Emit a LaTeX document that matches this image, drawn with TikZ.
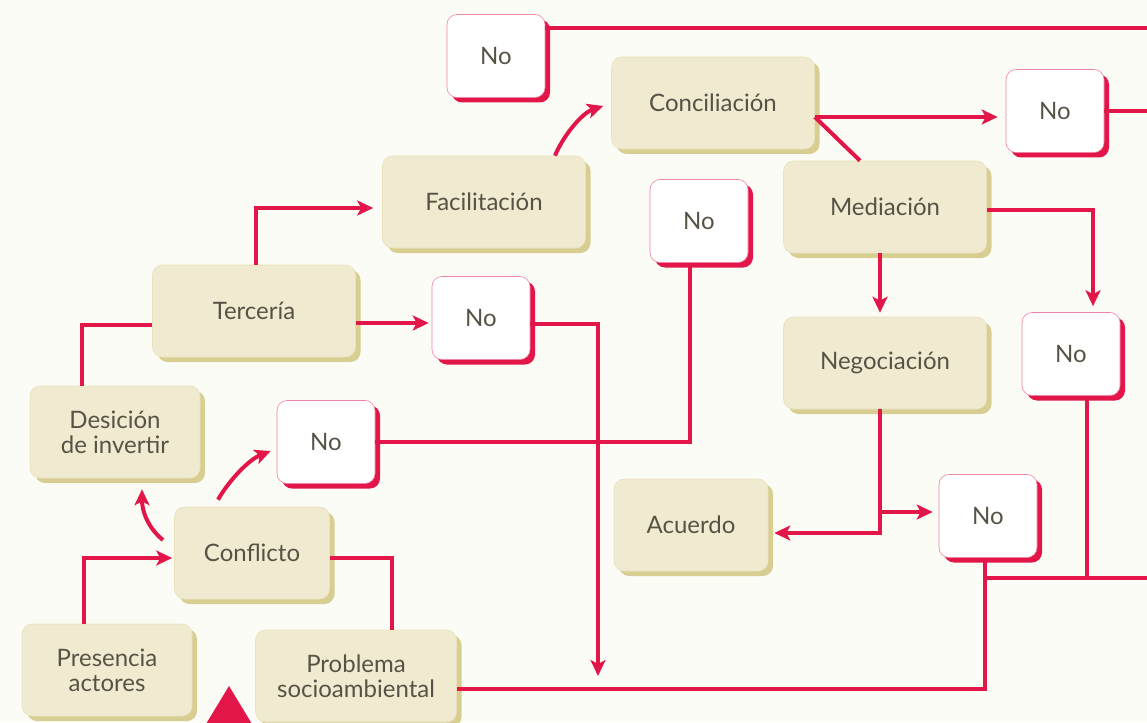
\documentclass[tikz,border=0pt]{standalone}
\usepackage{fontspec}
\setmainfont{Lato}
\usetikzlibrary{arrows.meta, shadows}

\definecolor{flowred}{RGB}{226,22,72}
\definecolor{boxbeige}{RGB}{240,235,208}
\definecolor{boxshade}{RGB}{216,206,146}
\definecolor{paper}{RGB}{252,252,246}
\definecolor{labelgray}{RGB}{88,82,70}
\definecolor{nopink}{RGB}{240,130,165}

\tikzset{
  stage/.style={rectangle, rounded corners=10pt, fill=boxbeige, draw=boxbeige!70!boxshade,
    line width=0.6pt, minimum width=203pt, minimum height=92pt, align=center,
    text=labelgray, font=\fontsize{24}{25}\selectfont,
    drop shadow={shadow xshift=5pt, shadow yshift=-5pt, fill=boxshade, opacity=1}},
  nobox/.style={rectangle, rounded corners=10pt, fill=white, draw=nopink,
    line width=0.6pt, minimum width=98pt, minimum height=83pt,
    text=labelgray, font=\fontsize{24}{25}\selectfont,
    drop shadow={shadow xshift=5pt, shadow yshift=-5pt, fill=flowred, opacity=1}},
  link/.style={draw=flowred, line width=4pt},
  flow/.style={link, -{Stealth[length=16pt, width=15pt, inset=4pt]}},
}

\begin{document}
\begin{tikzpicture}[x=1pt, y=-1pt]
    % Paper and page size
    \fill[paper] (0,0) rectangle (1147,722);
    \useasboundingbox (0,0) rectangle (1147,722);

    % Stages of the process
    \node[stage] (conciliacion) at (713,103) {Conciliación};
    \node[stage] (facilitacion) at (484,202) {Facilitación};
    \node[stage] (mediacion) at (885,207) {Mediación};
    \node[stage] (terceria) at (254,311) {Tercería};
    \node[stage] (negociacion) at (885,363) {Negociación};
    \node[stage, minimum width=170pt] (decision) at (115,432) {Desición\\de invertir};
    \node[stage, minimum width=154pt] (acuerdo) at (691,525) {Acuerdo};
    \node[stage, minimum width=155pt] (conflicto) at (252,553) {Conflicto};
    \node[stage, minimum width=170pt] (presencia) at (107,670) {Presencia\\actores};
    \node[stage, minimum width=201pt] (problema) at (356,676) {Problema\\socioambiental};

    % The "No" boxes
    \foreach \n/\x/\y in {notop/496/56, noright/1055/111, nomid/699/221, noter/481/318,
                          nofar/1071/354, noconf/326/442, nobot/988/516}
        \node[nobox] (\n) at (\x,\y) {No};

    % Free ends at the page edge
    \coordinate (edgetop) at (1150,28);
    \coordinate (edgeright) at (1150,111);
    \coordinate (edgelow) at (1150,578);
    \coordinate (drop) at (598,676);

    % Start: actors and problem lead to the conflict
    \draw[flow, shorten >=2pt] ([xshift=-23pt]presencia.north) |- ([yshift=-5pt]conflicto.west);
    \draw[link] ([xshift=36pt]problema.north) |- ([yshift=-5pt]conflicto.east);
    \draw[flow] (163,540) .. controls (148,528) and (142,511) .. ([xshift=27pt,yshift=-11pt]decision.south);
    \draw[flow] ([xshift=-34pt,yshift=7pt]conflicto.north) .. controls (228,482) and (248,460) .. ([xshift=-6pt,yshift=-9pt]noconf.west);

    % Third party
    \draw[link] ([xshift=-33pt]decision.north) |- ([yshift=-14pt]terceria.west);
    \draw[flow, shorten >=9pt] ([xshift=2pt]terceria.north) |- ([yshift=-6pt]facilitacion.west);
    \draw[flow, shorten >=3pt] ([yshift=-12pt]terceria.east) -- ([yshift=-5pt]noter.west);
    \draw[flow] ([yshift=-6pt]noter.east) -| (drop);
    \draw[link] (noconf.east) -| ([xshift=-9pt]nomid.south);
    \draw[flow] ([xshift=71pt]facilitacion.north) .. controls (563,136) and (582,113) .. ([xshift=-8pt,yshift=-3pt]conciliacion.west);

    % Conciliation and mediation
    \coordinate (split) at ([yshift=-14pt]conciliacion.east);
    \draw[flow, shorten >=8pt] (split) -- (split -| noright.west);
    \draw[link] (split) -- ([xshift=-25pt]mediacion.north);
    \draw[flow, shorten >=4pt] ([xshift=-5pt]mediacion.south) -- ([xshift=-5pt]negociacion.north);
    \draw[flow, shorten >=6pt] ([yshift=-3pt]mediacion.east) -| ([xshift=22pt]nofar.north);

    % Negotiation ends in agreement or not
    \coordinate (negout) at ([xshift=-5pt]negociacion.south);
    \coordinate (nobotin) at ([yshift=4pt]nobot.west);
    \draw[flow, shorten >=6pt] (negout) |- ([yshift=-8pt]acuerdo.east);
    \draw[flow, shorten >=6pt] (negout |- nobotin) -- (nobotin);

    % Way back and lines off the page
    \draw[link] ([xshift=-3pt]nobot.south) |- ([yshift=-13pt]problema.east);
    \draw[link] ([xshift=-3pt]nobot.south |- edgelow) -- (edgelow);
    \draw[link] ([xshift=16pt]nofar.south) -- ([xshift=16pt]nofar.south |- edgelow);
    \draw[link] ([yshift=28pt]notop.east) -- (edgetop);
    \draw[link] (noright.east) -- (edgeright);

    % Red triangle at the bottom
    \fill[flowred] (229,686) -- (206,724) -- (252,724) -- cycle;
\end{tikzpicture}
\end{document}
